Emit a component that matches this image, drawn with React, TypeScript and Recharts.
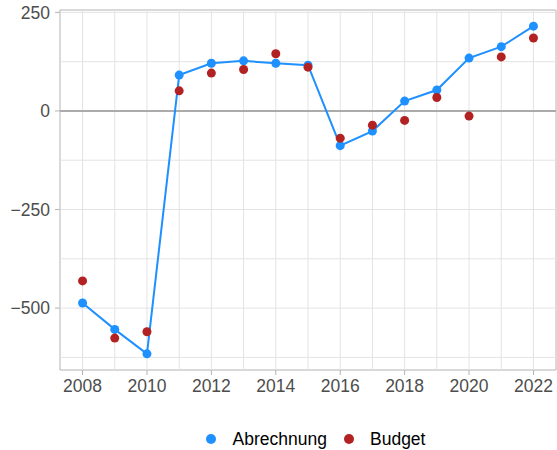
import React from 'react';
import { ComposedChart, Line, XAxis, YAxis, ReferenceLine, ReferenceArea, Legend } from 'recharts';

const years = [2008, 2009, 2010, 2011, 2012, 2013, 2014, 2015, 2016, 2017, 2018, 2019, 2020, 2021, 2022];
const abrechnung = [-487, -554, -616, 91, 121, 127, 121, 116, -88, -51, 25, 53, 134, 163, 215];
const budget = [-431, -576, -560, 51, 96, 105, 145, 111, -69, -36, -24, 34, -13, 137, 185];
const xTicks = [2008, 2010, 2012, 2014, 2016, 2018, 2020, 2022];
const yTicks = [-500, -250, 0, 250];
const yGrid = [-625, -500, -375, -250, -125, 125, 250];
const xGrid = years;
const xDomain: [number, number] = [2007.3, 2022.7];
const yDomain: [number, number] = [-657, 256];
const seriesNames = ['Abrechnung', 'Budget'];
const colors = ['#1E90FF', '#B22222'];

const data = years.map((y, i) => ({ year: y, abrechnung: abrechnung[i], budget: budget[i] }));

const FONT = '"Liberation Sans", Arial, Helvetica, sans-serif';

const fmtY = (v: number) => String(v).replace('-', '\u2212');

const renderLegend = () => (
  <svg width={557} height={25} style={{ display: 'block' }}>
    <circle cx={211} cy={12} r={5} fill={colors[0]} />
    <text x={232.5} y={18} fontFamily={FONT} fontSize={17.5} fill="#000">{seriesNames[0]}</text>
    <circle cx={349} cy={12} r={5} fill={colors[1]} />
    <text x={370} y={18} fontFamily={FONT} fontSize={17.5} fill="#000">{seriesNames[1]}</text>
  </svg>
);

export default function App() {
  return (
    <div style={{ position: 'absolute', left: 0, top: 0, background: '#fff' }}>
      <ComposedChart width={557} height={450} data={data} margin={{ top: 10, right: 1, bottom: 50, left: 0 }}>
        <XAxis
          dataKey="year"
          type="number"
          domain={xDomain}
          ticks={xTicks}
          allowDataOverflow
          height={30}
          tickSize={5}
          tickMargin={5}
          axisLine={false}
          tickLine={{ stroke: '#B3B3B3' }}
          tick={{ fill: '#4D4D4D', fontSize: 17.5, fontFamily: FONT }}
        />
        <YAxis
          type="number"
          domain={yDomain}
          ticks={yTicks}
          allowDataOverflow
          width={60}
          tickSize={5}
          tickMargin={5}
          axisLine={false}
          tickFormatter={fmtY}
          tickLine={{ stroke: '#B3B3B3' }}
          tick={{ fill: '#4D4D4D', fontSize: 17.5, fontFamily: FONT }}
        />
        {xGrid.map((x) => (
          <ReferenceLine key={'gx' + x} x={x} stroke="#E3E3E3" strokeWidth={1} />
        ))}
        {yGrid.map((y) => (
          <ReferenceLine key={'gy' + y} y={y} stroke="#E3E3E3" strokeWidth={1} />
        ))}
        <ReferenceLine y={0} stroke="#ABABAB" strokeWidth={2} />
        <ReferenceArea x1={xDomain[0]} x2={xDomain[1]} y1={yDomain[0]} y2={yDomain[1]} fill="none" stroke="#B3B3B3" strokeWidth={1} ifOverflow="visible" />
        <Line
          dataKey="abrechnung"
          name={seriesNames[0]}
          stroke={colors[0]}
          strokeWidth={2}
          dot={{ r: 4.5, fill: colors[0], stroke: 'none' }}
          activeDot={false}
          isAnimationActive={false}
        />
        <Line
          dataKey="budget"
          name={seriesNames[1]}
          stroke="none"
          dot={{ r: 4.5, fill: colors[1], stroke: 'none' }}
          activeDot={false}
          isAnimationActive={false}
        />
        <Legend
          layout="horizontal"
          verticalAlign="middle"
          align="center"
          content={renderLegend}
          wrapperStyle={{ top: 427, left: 0, width: 557, height: 25 }}
        />
      </ComposedChart>
    </div>
  );
}
